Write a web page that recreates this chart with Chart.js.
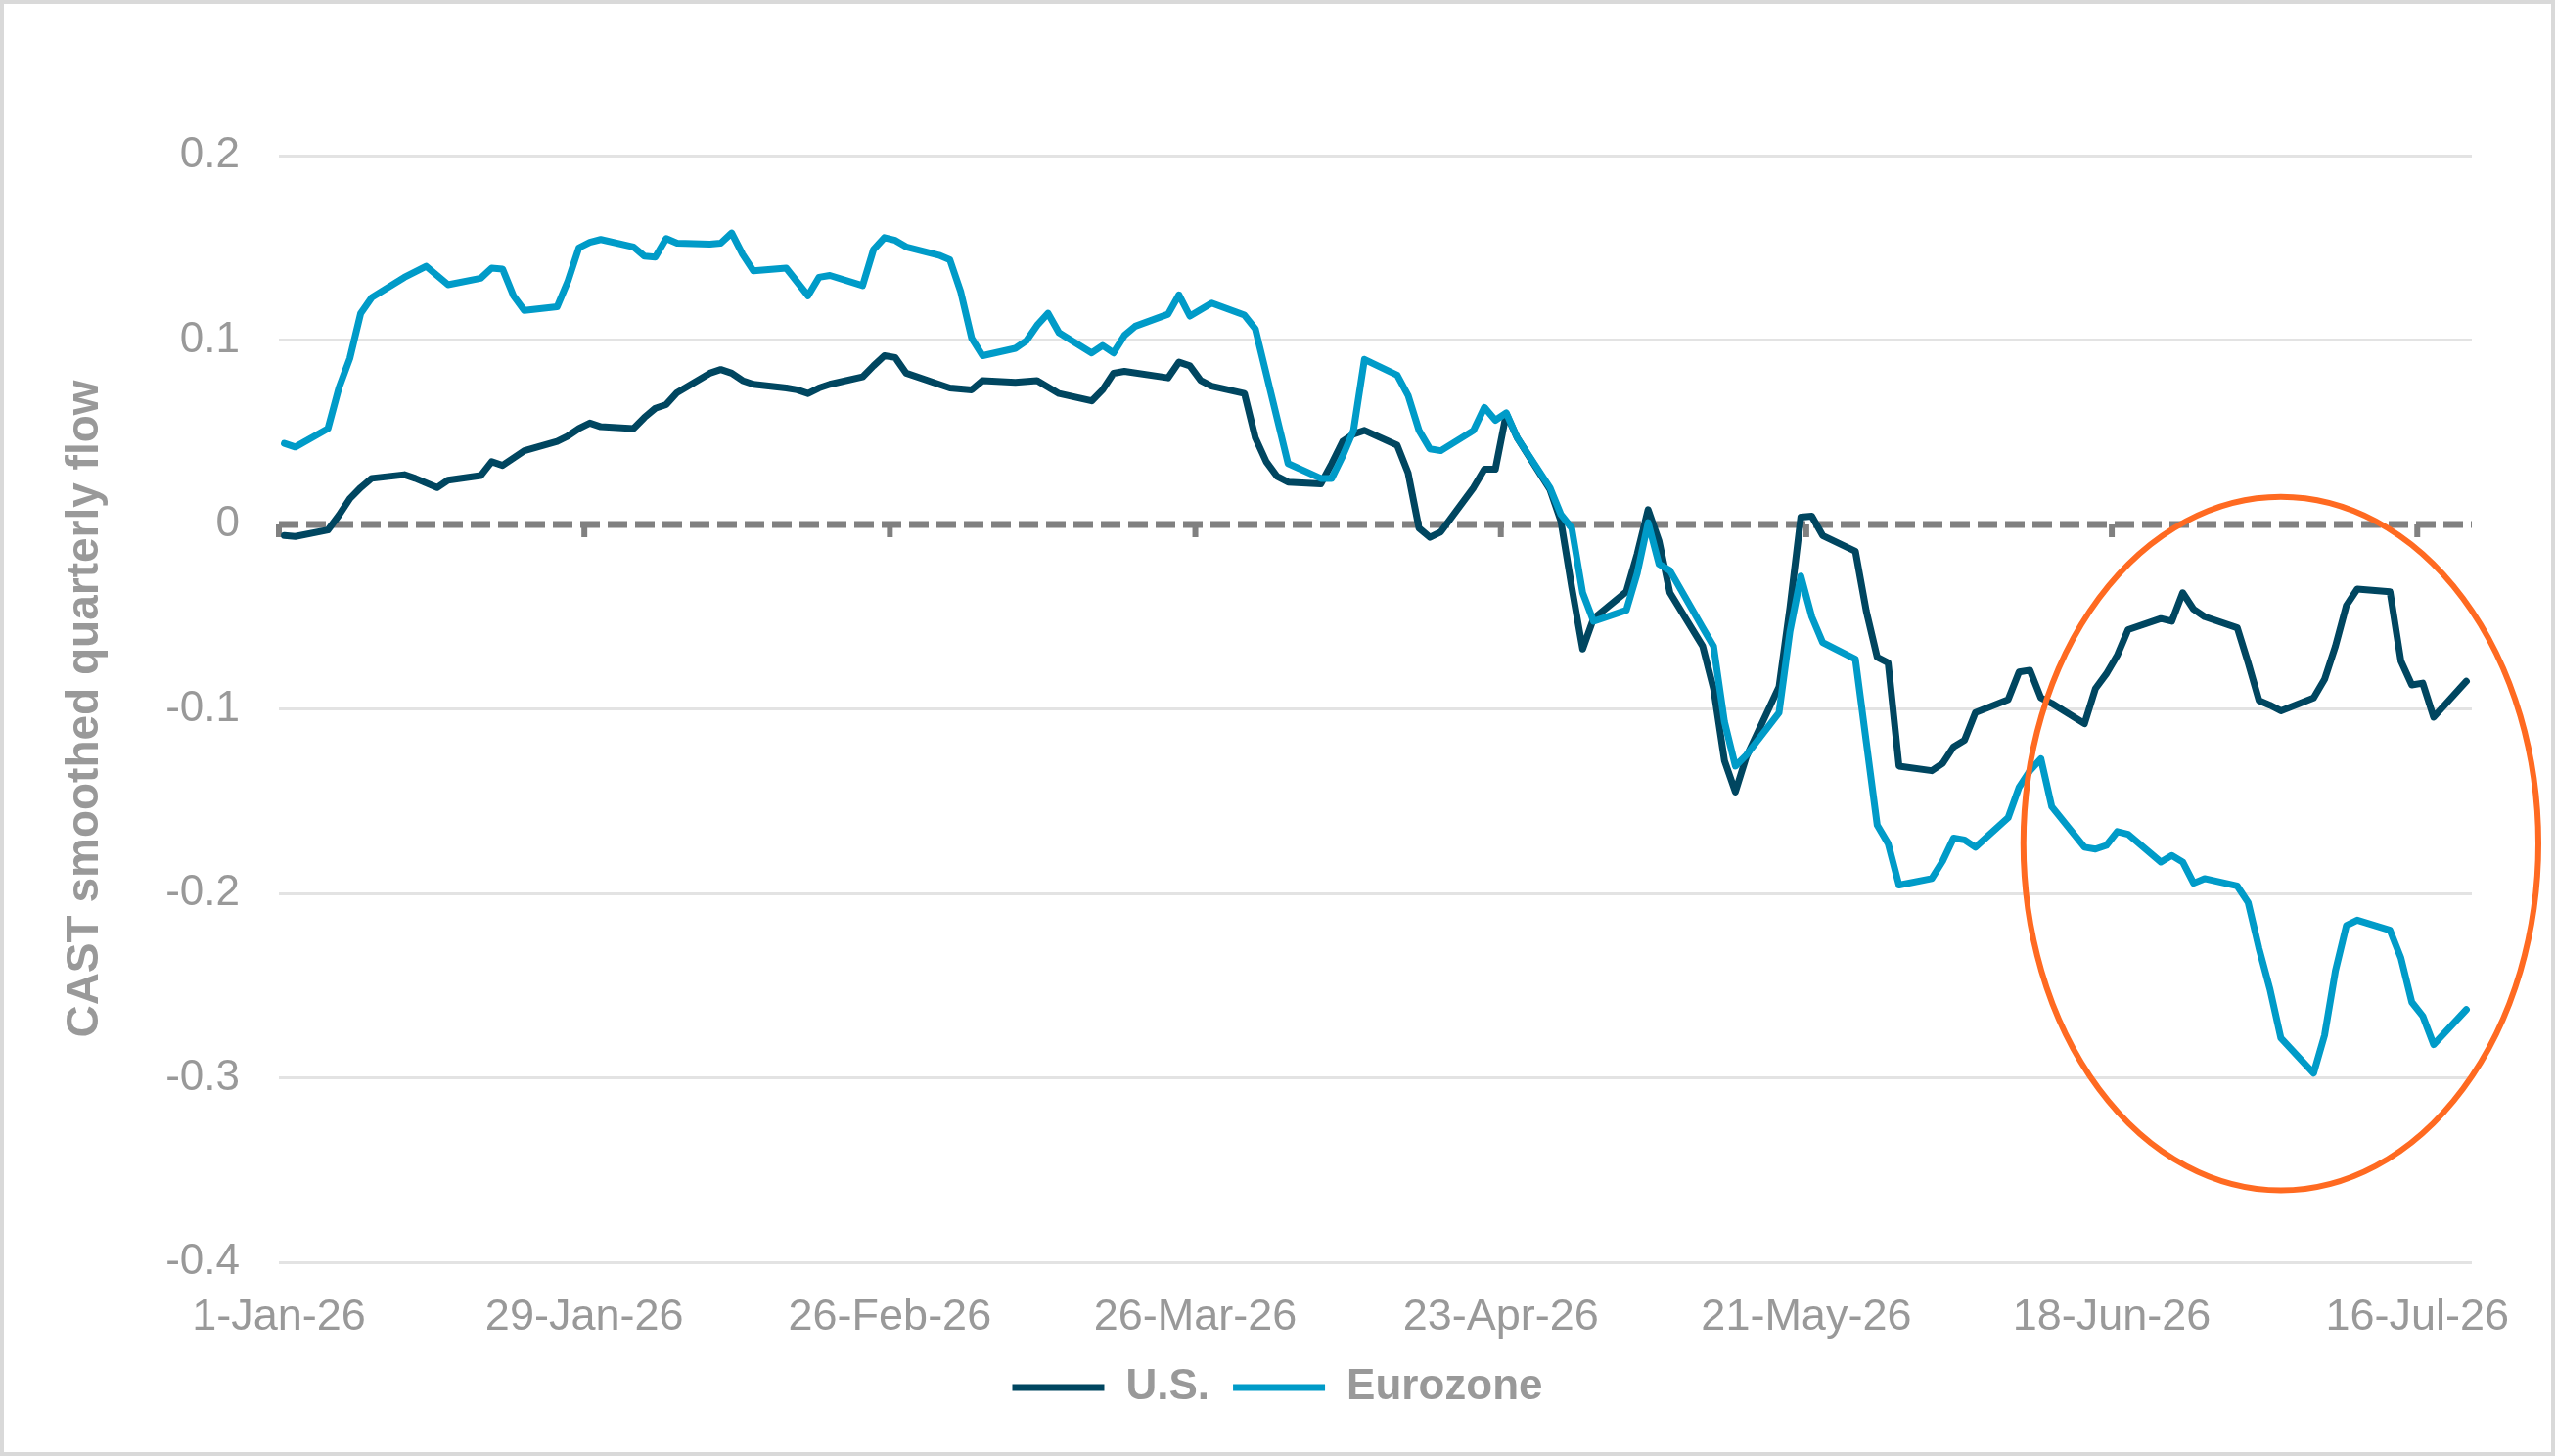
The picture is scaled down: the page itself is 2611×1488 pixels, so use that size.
<!DOCTYPE html>
<html>
<head>
<meta charset="utf-8">
<script src="https://cdn.jsdelivr.net/npm/chart.js@4.4.0/dist/chart.umd.min.js"></script>
<style>
  html, body { margin: 0; padding: 0; background: #ffffff; overflow: hidden; }
  canvas { display: block; }
</style>
</head>
<body>
<canvas id="chart" width="2611" height="1488"></canvas>
<script>
// days after 1-Jan-26 (business days)
const usDays = [0, 1, 4, 5, 6, 7, 8, 11, 12, 14, 15, 18, 19, 20, 21, 22, 25, 26, 27, 28, 29,
  32, 33, 34, 35, 36, 39, 40, 41, 42, 43, 46, 47, 48, 49, 50, 53, 54, 55, 56, 57, 60, 61, 63, 64,
  67, 69, 71, 74, 75, 76, 77, 81, 82, 83, 84, 85, 88, 89, 90, 91, 92, 95, 96, 97, 98, 99,
  102, 103, 104, 105, 106, 109, 110, 111, 112, 113, 116, 117, 118, 119, 120, 123, 124, 125, 126, 127,
  130, 131, 132, 133, 134, 137, 138, 139, 140, 141, 144, 145, 146, 147, 148, 151, 152, 153, 154, 155,
  158, 159, 160, 161, 162, 165, 166, 167, 168, 169, 172, 173, 174, 175, 176, 179, 180, 181, 182, 183,
  186, 187, 188, 189, 190, 193, 194, 195, 196, 197, 200];
const usFlow = [-0.006, -0.0065, -0.003, 0.005, 0.014, 0.020, 0.025, 0.027, 0.025, 0.020, 0.024,
  0.0265, 0.034, 0.032, 0.036, 0.040, 0.045, 0.048, 0.052, 0.055, 0.053,
  0.052, 0.058, 0.063, 0.065, 0.0715, 0.082, 0.084, 0.082, 0.078, 0.076, 0.074, 0.073, 0.071, 0.074, 0.076,
  0.080, 0.086, 0.0915, 0.0905, 0.082, 0.076, 0.074, 0.073, 0.078,
  0.077, 0.078, 0.071, 0.067, 0.073, 0.082, 0.083, 0.0795, 0.088, 0.086, 0.078, 0.075, 0.071, 0.047, 0.034, 0.026, 0.023,
  0.022, 0.033, 0.045, 0.049, 0.051,
  0.043, 0.028, -0.002, -0.007, -0.004, 0.020, 0.030, 0.030, 0.060, 0.047, 0.019, 0.002, -0.034, -0.0675, -0.051,
  -0.0365, -0.016, 0.008, -0.009, -0.037,
  -0.066, -0.089, -0.128, -0.145, -0.126, -0.088, -0.045, 0.004, 0.0045, -0.006, -0.0145, -0.047, -0.072, -0.075, -0.131,
  -0.1335, -0.1295, -0.1205, -0.117, -0.102,
  -0.095, -0.080, -0.079, -0.094, -0.097, -0.108, -0.089, -0.081, -0.071, -0.057, -0.051, -0.0525, -0.037, -0.046, -0.050,
  -0.056, -0.075, -0.0955, -0.098, -0.101,
  -0.094, -0.084, -0.066, -0.044, -0.035, -0.0365, -0.074, -0.087, -0.086, -0.1045, -0.085];

const ezDays = [0, 1, 4, 5, 6, 7, 8, 11, 13, 15, 18, 19, 20, 21, 22, 25, 26, 27, 28, 29,
  32, 33, 34, 35, 36, 39, 40, 41, 42, 43, 46, 48, 49, 50, 53, 54, 55, 56, 57, 60, 61, 62, 63, 64,
  67, 68, 69, 70, 71, 74, 75, 76, 77, 78, 81, 82, 83, 85, 88, 89, 92, 95, 96, 97, 98, 99,
  102, 103, 104, 105, 106, 109, 110, 111, 112, 113, 116, 117, 118, 119, 120, 123, 124, 125, 126, 127,
  130, 131, 132, 133, 134, 137, 138, 139, 140, 141, 144, 145, 146, 147, 148, 151, 152, 153, 154, 155,
  158, 159, 160, 161, 162, 165, 166, 167, 168, 169, 172, 173, 174, 175, 176, 179, 180, 181, 182, 183,
  186, 187, 188, 189, 190, 193, 194, 195, 196, 197, 200];
const ezFlow = [0.044, 0.042, 0.052, 0.074, 0.090, 0.1145, 0.123, 0.134, 0.140, 0.130, 0.1335, 0.139, 0.1385,
  0.124, 0.116, 0.118, 0.132, 0.150, 0.153, 0.1545,
  0.1505, 0.1455, 0.145, 0.155, 0.1525, 0.152, 0.1525, 0.158, 0.1465, 0.1375, 0.139, 0.124, 0.134, 0.135,
  0.1295, 0.149, 0.1555, 0.154, 0.1505, 0.146, 0.1435, 0.126, 0.101, 0.0915,
  0.0955, 0.0995, 0.108, 0.1145, 0.104, 0.093, 0.097, 0.093, 0.1025, 0.1075, 0.114, 0.1245, 0.113, 0.120,
  0.1135, 0.106, 0.033, 0.025, 0.025, 0.037, 0.051, 0.0895,
  0.081, 0.070, 0.051, 0.041, 0.040, 0.051, 0.0635, 0.0565, 0.0605, 0.047, 0.020, 0.0055, -0.002, -0.037, -0.0525,
  -0.0465, -0.0265, 0.001, -0.0215, -0.025,
  -0.056, -0.066, -0.107, -0.131, -0.125, -0.102, -0.058, -0.028, -0.050, -0.064, -0.073, -0.118, -0.163, -0.173, -0.1955,
  -0.192, -0.1825, -0.170, -0.171, -0.175,
  -0.159, -0.1425, -0.1335, -0.127, -0.153, -0.175, -0.176, -0.174, -0.1665, -0.168, -0.183, -0.1795, -0.183, -0.1945, -0.192,
  -0.196, -0.205, -0.230, -0.252, -0.2785,
  -0.2975, -0.277, -0.242, -0.2175, -0.2145, -0.220, -0.235, -0.259, -0.2665, -0.282, -0.263];

const seriesNames = ['U.S.', 'Eurozone'];
const tickDays = [0, 28, 56, 84, 112, 140, 168, 196];
const yTicks = [0.2, 0.1, 0, -0.1, -0.2, -0.3, -0.4];
const months = ['Jan', 'Feb', 'Mar', 'Apr', 'May', 'Jun', 'Jul', 'Aug', 'Sep', 'Oct', 'Nov', 'Dec'];

// highlighted region (data units): centre day, centre value, half width (days), half height
const ringDay = 183.5, ringValue = -0.173, ringHalfDays = 23.6, ringHalfValue = 0.188;

const FONT = '"Liberation Sans", Arial, sans-serif';
const GREY_TEXT = '#999999';
const US_COLOR = '#004660';
const EZ_COLOR = '#009bc8';

function dayLabel(d) {
  const dt = new Date(Date.UTC(2026, 0, 1 + d));
  return dt.getUTCDate() + '-' + months[dt.getUTCMonth()] + '-' + String(dt.getUTCFullYear()).slice(2);
}

function toPoints(days, vals) {
  // Excel date axis puts each point in the middle of its day
  return days.map((d, i) => ({ x: d + 0.5, y: vals[i] }));
}

const zeroLinePlugin = {
  id: 'zeroLine',
  beforeDatasetsDraw(chart) {
    const { ctx, chartArea, scales } = chart;
    const y0 = scales.y.getPixelForValue(0);
    ctx.save();
    ctx.strokeStyle = '#808080';
    ctx.lineWidth = 7;
    ctx.setLineDash([20, 8]);
    ctx.beginPath();
    ctx.moveTo(chartArea.left, y0);
    ctx.lineTo(chartArea.right, y0);
    ctx.stroke();
    ctx.setLineDash([]);
    ctx.lineWidth = 6;
    tickDays.forEach(d => {
      const x = scales.x.getPixelForValue(d);
      ctx.beginPath();
      ctx.moveTo(x, y0);
      ctx.lineTo(x, y0 + 13);
      ctx.stroke();
    });
    ctx.restore();
  }
};

const ringPlugin = {
  id: 'ring',
  afterDraw(chart) {
    const { ctx, scales } = chart;
    const cx = scales.x.getPixelForValue(ringDay);
    const cy = scales.y.getPixelForValue(ringValue);
    const rx = scales.x.getPixelForValue(ringDay + ringHalfDays) - cx;
    const ry = scales.y.getPixelForValue(ringValue - ringHalfValue) - cy;
    ctx.save();
    ctx.strokeStyle = '#ff6a21';
    ctx.lineWidth = 6;
    ctx.beginPath();
    ctx.ellipse(cx, cy, rx, ry, 0, 0, Math.PI * 2);
    ctx.stroke();
    ctx.restore();
  }
};

const framePlugin = {
  id: 'frame',
  beforeDraw(chart) {
    const { ctx, width, height } = chart;
    ctx.save();
    ctx.fillStyle = '#ffffff';
    ctx.fillRect(0, 0, width, height);
    ctx.strokeStyle = '#d9d9d9';
    ctx.lineWidth = 4;
    ctx.strokeRect(2, 2, width - 4, height - 4);
    ctx.restore();
  }
};

new Chart(document.getElementById('chart').getContext('2d'), {
  type: 'line',
  data: {
    datasets: [
      {
        label: seriesNames[0],
        data: toPoints(usDays, usFlow),
        borderColor: US_COLOR,
        backgroundColor: US_COLOR,
        borderWidth: 7,
        order: 1
      },
      {
        label: seriesNames[1],
        data: toPoints(ezDays, ezFlow),
        borderColor: EZ_COLOR,
        backgroundColor: EZ_COLOR,
        borderWidth: 7,
        order: 0
      }
    ]
  },
  options: {
    responsive: false,
    animation: false,
    devicePixelRatio: 1,
    elements: {
      point: { radius: 0 },
      line: { tension: 0, borderJoinStyle: 'round', borderCapStyle: 'round', fill: false }
    },
    layout: { padding: { left: 0, right: 0, top: 159, bottom: 38 } },
    scales: {
      x: {
        type: 'linear',
        min: 0,
        max: 201,
        afterBuildTicks(scale) { scale.ticks = tickDays.map(v => ({ value: v })); },
        afterFit(scale) { scale.height = 82; },
        grid: { display: false, drawTicks: false },
        border: { display: false },
        ticks: {
          padding: 30,
          maxRotation: 0,
          autoSkip: false,
          color: GREY_TEXT,
          font: { family: FONT, size: 45 },
          callback: v => dayLabel(v)
        }
      },
      y: {
        type: 'linear',
        min: -0.4,
        max: 0.2,
        afterBuildTicks(scale) { scale.ticks = yTicks.map(v => ({ value: v })); },
        afterFit(scale) { scale.width = 285; },
        grid: {
          drawTicks: false,
          lineWidth: 3,
          color: c => (Math.abs(c.tick.value) < 1e-9 ? 'rgba(0,0,0,0)' : '#e3e3e3')
        },
        border: { display: false },
        ticks: {
          padding: 40,
          color: GREY_TEXT,
          font: { family: FONT, size: 44 },
          callback: v => String(Math.round(v * 10) / 10)
        },
        title: {
          display: true,
          text: 'CAST smoothed quarterly flow',
          color: GREY_TEXT,
          font: { family: FONT, size: 46, weight: 'bold' },
          padding: { top: 60, bottom: 0 }
        }
      },
      yRight: {
        type: 'linear',
        position: 'right',
        display: true,
        afterFit(scale) { scale.width = 85; },
        grid: { display: false, drawTicks: false },
        border: { display: false },
        ticks: { display: false }
      }
    },
    plugins: {
      legend: {
        display: true,
        position: 'bottom',
        labels: {
          boxWidth: 94,
          boxHeight: 7,
          padding: 24,
          color: GREY_TEXT,
          font: { family: FONT, size: 44, weight: 'bold' },
          sort: (a, b) => a.datasetIndex - b.datasetIndex,
          generateLabels(chart) {
            return Chart.defaults.plugins.legend.labels.generateLabels(chart).map(item => {
              item.lineWidth = 0;
              return item;
            });
          }
        }
      },
      tooltip: { enabled: false }
    }
  },
  plugins: [framePlugin, zeroLinePlugin, ringPlugin]
});
</script>
</body>
</html>
